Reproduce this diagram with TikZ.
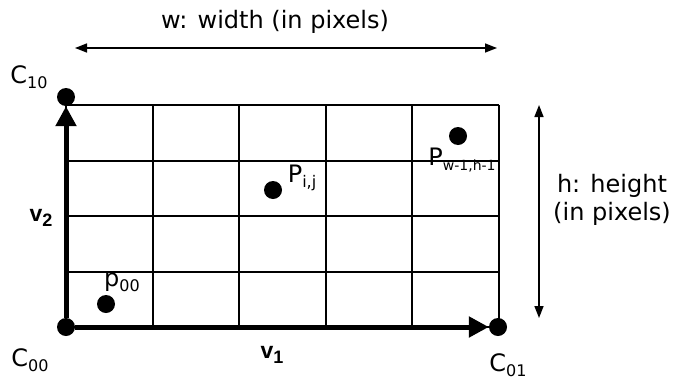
\documentclass[tikz,border=0pt]{standalone}
\usepackage{fontspec}
\setmainfont{DejaVu Sans}
\newfontfamily\arialfont{Liberation Sans}
\usetikzlibrary{positioning}
\usetikzlibrary{arrows.meta}
\newcommand{\lowsub}[2][16]{\raisebox{-5pt}{\fontsize{#1}{#1}\selectfont #2}}

\begin{document}
\begin{tikzpicture}[x=1pt, y=-1pt,
    dot/.style={circle, fill=black, inner sep=0pt, minimum size=18pt},
    lbl/.style={font=\fontsize{24}{28}\selectfont, inner sep=0pt},
    vec/.style={font=\arialfont\bfseries\fontsize{23}{26}\selectfont, inner sep=0pt},
    axis/.style={-{Triangle[length=20pt,width=20pt]}, line width=5pt},
    dim/.style={{Triangle[length=12pt,width=9pt]}-{Triangle[length=12pt,width=9pt]}, line width=1.5pt},
    gridline/.style={line width=2pt}]
    \useasboundingbox (0,0) rectangle (679,383);

    % the pixel grid
    \foreach \gx in {66,153,239,326,412,499}
        \draw[gridline] (\gx,105) -- (\gx,327);
    \foreach \gy in {105,161,216,272,327}
        \draw[gridline] (66,\gy) -- (499,\gy);

    % corners and sample points
    \node[dot] (c10) at (66, 97) {};
    \node[dot] (c00) at (66, 327) {};
    \node[dot] (c01) at (498, 327) {};
    \node[dot] (p00) at (106, 304) {};
    \node[dot] (pij) at (273, 190) {};
    \node[dot] (plast) at (458, 136) {};

    \draw[axis] (c00) -- (c01);
    \draw[axis] (c00) -- (c10);

    \node[lbl] (c10lbl) at (29, 77) {C\lowsub{10}};
    \node[lbl] (c00lbl) at (30, 360) {C\lowsub{00}};
    \node[lbl] (c01lbl) at (508, 365) {C\lowsub{01}};
    \node[lbl] (p00lbl) at (122, 282) {p\lowsub{00}};
    \node[lbl] (pijlbl) at (302, 178) {P\lowsub{i,j}};
    \node[lbl] (plastlbl) at (462, 160) {P\lowsub[14]{w-1,h-1}};
    \node[vec] (v1) at (272, 355) {v\lowsub[18]{1}};
    \node[vec] (v2) at (41, 218) {v\lowsub[18]{2}};

    % size of the image
    \coordinate (wl) at (75, 48);
    \coordinate (wr) at (497, 48);
    \coordinate (ht) at (539, 105);
    \coordinate (hb) at (539, 318);
    \draw[dim] (wl) -- (wr);
    \draw[dim] (ht) -- (hb);
    \node[lbl] (wlbl) at (275, 22) {w: width (in pixels)};
    \node[lbl, align=center] (hlbl) at (612, 200) {h: height\\(in pixels)};
\end{tikzpicture}
\end{document}
